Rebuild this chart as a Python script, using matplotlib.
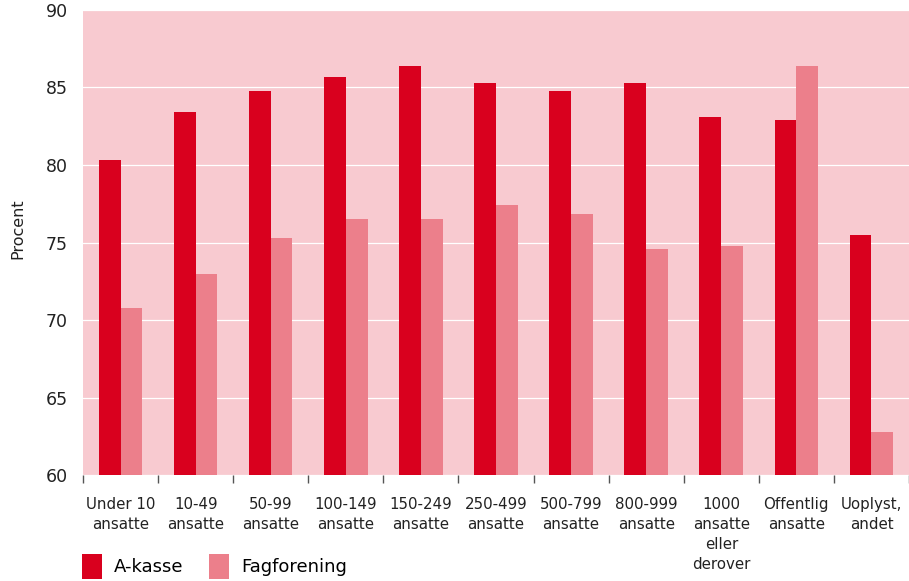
import matplotlib
matplotlib.use("Agg")
import matplotlib.pyplot as plt
import numpy as np
from matplotlib.patches import Patch

categories = ["Under 10\nansatte", "10-49\nansatte", "50-99\nansatte", "100-149\nansatte",
              "150-249\nansatte", "250-499\nansatte", "500-799\nansatte", "800-999\nansatte",
              "1000\nansatte\neller\nderover", "Offentlig\nansatte", "Uoplyst,\nandet"]
a_kasse = [80.3, 83.4, 84.8, 85.7, 86.4, 85.3, 84.8, 85.3, 83.1, 82.9, 75.5]
fagforening = [70.8, 73.0, 75.3, 76.5, 76.5, 77.4, 76.85, 74.6, 74.8, 86.4, 62.8]
yticks = [60, 65, 70, 75, 80, 85, 90]

plt.rcParams['font.family'] = ['DejaVu Sans']
fig = plt.figure(figsize=(9.09, 5.81), dpi=100)
ax = fig.add_axes([0.0913, 0.1824, 0.9087, 0.8004])
ax.set_facecolor("#F8CAD0")

x = np.arange(len(categories))
w = 0.29
ax.bar(x - w/2, a_kasse, width=w, color="#D9001E", zorder=3, label="A-kasse")
ax.bar(x + w/2, fagforening, width=w, color="#EC7F8B", zorder=3, label="Fagforening")

ax.set_ylim(60, 90)
ax.set_xlim(-0.5, len(categories) - 0.5)
ax.set_yticks(yticks)
ax.set_yticklabels([str(v) for v in yticks], fontsize=12.5, color="#222222")
ax.yaxis.grid(True, color="white", linewidth=0.9, zorder=1)
ax.set_axisbelow(True)

ax.set_xticks(x)
ax.set_xticklabels(categories, fontsize=10.8, color="#222222", linespacing=1.4, va="top")
ax.set_xticks(np.arange(len(categories) + 1) - 0.5, minor=True)
ax.tick_params(axis="x", which="major", length=0, pad=16)
ax.tick_params(axis="x", which="minor", length=6, width=1, color="#555555", direction="out")
ax.tick_params(axis="y", length=0, pad=11)

for s in ax.spines.values():
    s.set_visible(False)

ax.set_ylabel("Procent", fontsize=11.5, color="#222222")
ax.yaxis.set_label_coords(-0.07, 0.53)

handles = [Patch(facecolor="#D9001E"), Patch(facecolor="#EC7F8B")]
fig.legend(handles, ["A-kasse", "Fagforening"], loc="upper left",
           bbox_to_anchor=(0.09, 0.046), ncol=2, frameon=False,
           fontsize=13, handlelength=1.1, handleheight=1.7,
           handletextpad=0.7, columnspacing=1.4, borderaxespad=0, borderpad=0)

fig.savefig("out.png", dpi=100)
